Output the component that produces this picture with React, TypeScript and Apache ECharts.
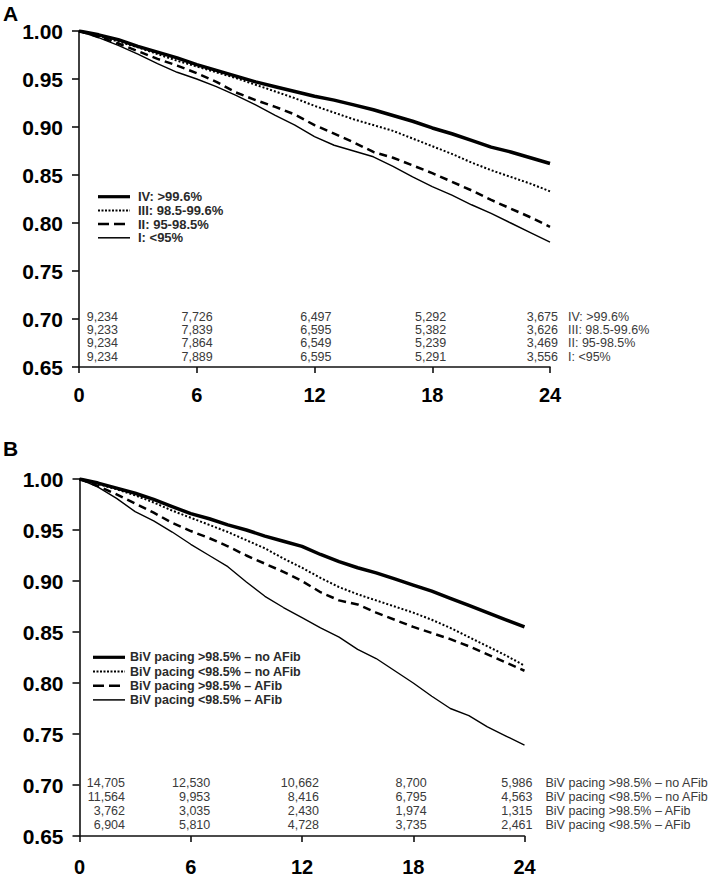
import React, { useEffect, useRef } from 'react';
import * as echarts from 'echarts';

// ---------- data ----------
const months = [0, 1, 2, 3, 4, 5, 6, 7, 8, 9, 10, 11, 12, 13, 14, 15, 16, 17, 18, 19, 20, 21, 22, 23, 24];

const tiersA = ['IV: >99.6%', 'III: 98.5-99.6%', 'II: 95-98.5%', 'I: <95%'];
const survA_IV = [1.000, 0.996, 0.991, 0.984, 0.978, 0.972, 0.965, 0.959, 0.953, 0.947, 0.942, 0.937, 0.932, 0.928, 0.923, 0.918, 0.912, 0.906, 0.899, 0.893, 0.886, 0.879, 0.874, 0.868, 0.862];
const survA_III = [1.000, 0.995, 0.989, 0.983, 0.976, 0.969, 0.963, 0.957, 0.951, 0.944, 0.937, 0.930, 0.922, 0.915, 0.908, 0.902, 0.896, 0.888, 0.880, 0.872, 0.863, 0.855, 0.848, 0.841, 0.833];
const survA_II = [1.000, 0.994, 0.987, 0.979, 0.971, 0.964, 0.956, 0.947, 0.936, 0.928, 0.921, 0.913, 0.902, 0.893, 0.884, 0.874, 0.868, 0.860, 0.852, 0.843, 0.834, 0.824, 0.815, 0.806, 0.796];
const survA_I = [1.000, 0.993, 0.985, 0.976, 0.966, 0.957, 0.950, 0.942, 0.933, 0.923, 0.912, 0.902, 0.890, 0.881, 0.875, 0.869, 0.859, 0.848, 0.838, 0.829, 0.819, 0.810, 0.800, 0.790, 0.780];

const groupsB = ['BiV pacing >98.5% – no AFib', 'BiV pacing <98.5% – no AFib', 'BiV pacing >98.5% – AFib', 'BiV pacing <98.5% – AFib'];
const survB_hiNoAF = [1.000, 0.996, 0.991, 0.986, 0.980, 0.973, 0.966, 0.961, 0.955, 0.950, 0.944, 0.939, 0.934, 0.926, 0.919, 0.913, 0.908, 0.902, 0.896, 0.890, 0.883, 0.876, 0.869, 0.862, 0.855];
const survB_loNoAF = [1.000, 0.995, 0.990, 0.984, 0.977, 0.969, 0.962, 0.955, 0.948, 0.940, 0.932, 0.922, 0.913, 0.903, 0.894, 0.887, 0.881, 0.875, 0.869, 0.862, 0.854, 0.845, 0.836, 0.827, 0.817];
const survB_hiAF = [1.000, 0.993, 0.985, 0.976, 0.967, 0.957, 0.949, 0.942, 0.934, 0.925, 0.917, 0.909, 0.900, 0.889, 0.881, 0.877, 0.869, 0.862, 0.855, 0.849, 0.843, 0.836, 0.828, 0.820, 0.812];
const survB_loAF = [1.000, 0.992, 0.981, 0.968, 0.959, 0.948, 0.936, 0.925, 0.914, 0.899, 0.885, 0.874, 0.864, 0.854, 0.845, 0.833, 0.824, 0.812, 0.800, 0.787, 0.775, 0.768, 0.757, 0.748, 0.739];

const riskMonths = [0, 6, 12, 18, 24];
const riskA_IV = [9234, 7726, 6497, 5292, 3675];
const riskA_III = [9233, 7839, 6595, 5382, 3626];
const riskA_II = [9234, 7864, 6549, 5239, 3469];
const riskA_I = [9234, 7889, 6595, 5291, 3556];
const riskB_hiNoAF = [14705, 12530, 10662, 8700, 5986];
const riskB_loNoAF = [11564, 9953, 8416, 6795, 4563];
const riskB_hiAF = [3762, 3035, 2430, 1974, 1315];
const riskB_loAF = [6904, 5810, 4728, 3735, 2461];

const yTicks = { min: 0.65, max: 1.0, interval: 0.05 };
const xTicks = { min: 0, max: 24, interval: 6 };

// ---------- styles ----------
const FONT = '"Liberation Sans", Arial, Helvetica, sans-serif';
const lineStyles = [
  { width: 3.5, type: 'solid' as any },
  { width: 2, type: [2, 2] as any },
  { width: 2.5, type: [8, 5] as any },
  { width: 1.4, type: 'solid' as any },
];
const legendLineStyles = [
  { width: 3.2, dash: null as any },
  { width: 2, dash: [2, 1.5] },
  { width: 2.5, dash: [11, 5] },
  { width: 1.5, dash: null as any },
];

const fmt = (n: number) => String(n).replace(/\B(?=(\d{3})+(?!\d))/g, ',');

export default function App() {
  const ref = useRef<HTMLDivElement>(null);

  useEffect(() => {
    if (!ref.current) return;
    const chart = echarts.init(ref.current, undefined, { renderer: 'svg' });

    const seriesA = [survA_IV, survA_III, survA_II, survA_I];
    const seriesB = [survB_hiNoAF, survB_loNoAF, survB_hiAF, survB_loAF];

    const mkX = (gi: number, margin: number) => ({
      type: 'value',
      gridIndex: gi,
      ...xTicks,
      axisLine: { show: true, onZero: false, lineStyle: { color: '#111', width: 1.6 } },
      axisTick: { show: true, inside: false, length: 6, lineStyle: { color: '#111', width: 1.6 } },
      axisLabel: { margin, fontSize: 20, fontWeight: 'bold', color: '#000', fontFamily: FONT },
      splitLine: { show: false },
    });
    const mkY = (gi: number) => ({
      type: 'value',
      gridIndex: gi,
      ...yTicks,
      axisLine: { show: true, lineStyle: { color: '#111', width: 1.6 } },
      axisTick: { show: true, inside: false, length: 7, lineStyle: { color: '#111', width: 1.6 } },
      axisLabel: {
        margin: 16,
        fontSize: 21,
        fontWeight: 'bold',
        color: '#000',
        fontFamily: FONT,
        formatter: (v: number) => v.toFixed(2),
      },
      splitLine: { show: false },
    });

    const mkSeries = (names: string[], arrs: number[][], gi: number) =>
      arrs.map((arr, i) => ({
        name: names[i],
        type: 'line',
        xAxisIndex: gi,
        yAxisIndex: gi,
        symbol: 'none',
        showSymbol: false,
        color: '#000',
        data: months.map((m, k) => [m, arr[k]]),
        lineStyle: { color: '#000', ...lineStyles[i] },
        z: 10 - i,
      }));

    chart.setOption({
      animation: false,
      backgroundColor: '#fff',
      grid: [
        { left: 79, top: 31, width: 471, height: 336, containLabel: false },
        { left: 79.5, top: 479, width: 445, height: 357, containLabel: false },
      ],
      xAxis: [mkX(0, 18), mkX(1, 21)],
      yAxis: [mkY(0), mkY(1)],
      series: [...mkSeries(tiersA, seriesA, 0), ...mkSeries(groupsB, seriesB, 1)],
    });

    const graphics: any[] = [];

    // legends (line sample + bold label)
    const legends = [
      { names: tiersA, x0: 98, x1: 130, tx: 138, y0: 196.7, dy: 13.7, fontSize: 13 },
      { names: groupsB, x0: 93, x1: 125, tx: 130, y0: 657.3, dy: 14.2, fontSize: 12.5 },
    ];
    legends.forEach((lg) => {
      lg.names.forEach((name, i) => {
        const y = lg.y0 + i * lg.dy;
        const ls = legendLineStyles[i];
        graphics.push({
          type: 'line',
          silent: true,
          shape: { x1: lg.x0, y1: y, x2: lg.x1, y2: y },
          style: { stroke: '#000', lineWidth: ls.width, lineDash: ls.dash },
        });
        graphics.push({
          type: 'text',
          silent: true,
          x: lg.tx,
          y,
          style: {
            text: name,
            align: 'left',
            verticalAlign: 'middle',
            fontSize: lg.fontSize,
            fontWeight: 'bold',
            fontFamily: FONT,
            fill: '#2a2a2a',
          },
        });
      });
    });

    // number-at-risk tables placed through the axes' own scales
    const tables = [
      {
        grid: 0,
        rows: [riskA_IV, riskA_III, riskA_II, riskA_I],
        labels: tiersA,
        colOffsets: [39, 16, 17, 14, 8],
        rowOffsets: [-50.3, -37, -23.7, -10.3],
        labelGap: 18,
        fontSize: 12.5,
      },
      {
        grid: 1,
        rows: [riskB_hiNoAF, riskB_loNoAF, riskB_hiAF, riskB_loAF],
        labels: groupsB,
        colOffsets: [45.5, 19.5, 17, 13.5, 8],
        rowOffsets: [-53.3, -39.3, -25.3, -11],
        labelGap: 21,
        fontSize: 12.5,
      },
    ];
    tables.forEach((t) => {
      t.rows.forEach((row, r) => {
        row.forEach((n, c) => {
          const p = chart.convertToPixel({ gridIndex: t.grid } as any, [riskMonths[c], yTicks.min]) as number[];
          graphics.push({
            type: 'text',
            silent: true,
            x: p[0] + t.colOffsets[c],
            y: p[1] + t.rowOffsets[r],
            style: {
              text: fmt(n),
              align: 'right',
              verticalAlign: 'middle',
              fontSize: t.fontSize,
              fontFamily: FONT,
              fill: '#3a3a3a',
            },
          });
        });
        const pe = chart.convertToPixel({ gridIndex: t.grid } as any, [xTicks.max, yTicks.min]) as number[];
        graphics.push({
          type: 'text',
          silent: true,
          x: pe[0] + t.labelGap,
          y: pe[1] + t.rowOffsets[r],
          style: {
            text: t.labels[r],
            align: 'left',
            verticalAlign: 'middle',
            fontSize: t.fontSize,
            fontFamily: FONT,
            fill: '#3a3a3a',
          },
        });
      });
    });
    graphics.push({
      type: 'text',
      silent: true,
      x: 3,
      y: 13,
      style: { text: 'A', verticalAlign: 'middle', fontSize: 21, fontWeight: 'bold', fontFamily: FONT, fill: '#000' },
    });
    graphics.push({
      type: 'text',
      silent: true,
      x: 3,
      y: 448,
      style: { text: 'B', verticalAlign: 'middle', fontSize: 21, fontWeight: 'bold', fontFamily: FONT, fill: '#000' },
    });
    chart.setOption({ graphic: graphics });

    return () => chart.dispose();
  }, []);

  return (
    <div
      ref={ref}
      style={{ position: 'absolute', left: 0, top: 0, width: 711, height: 883, background: '#fff' }}
    />
  );
}
